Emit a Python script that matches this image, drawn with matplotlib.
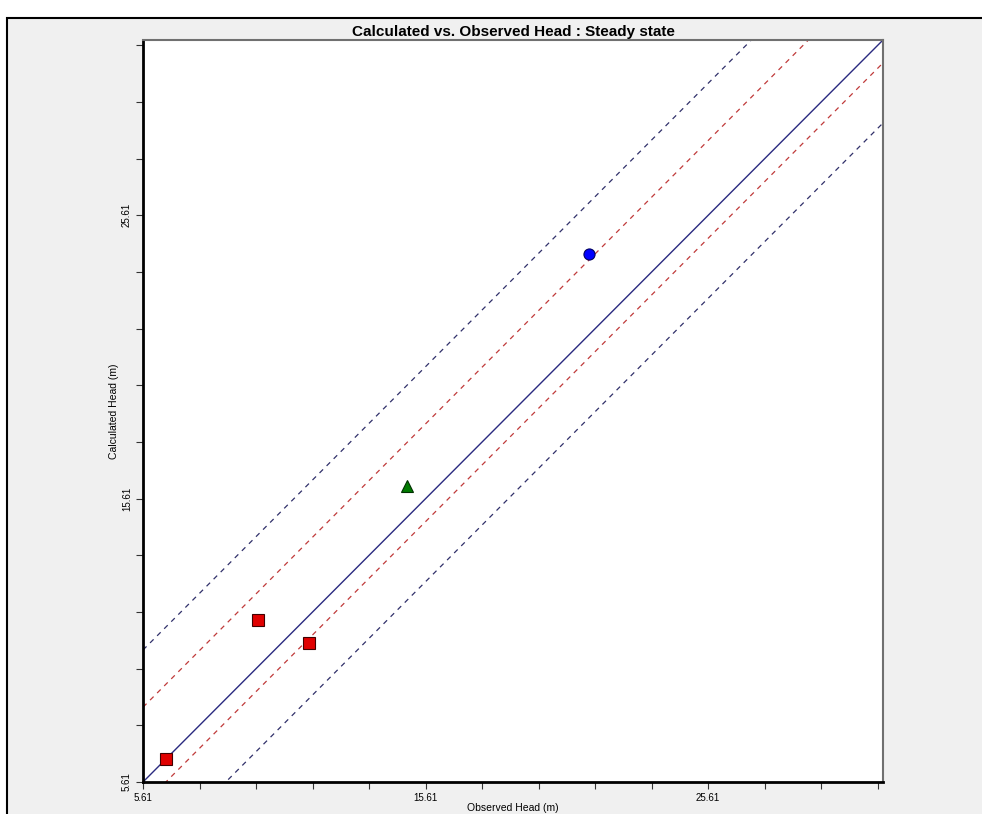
import numpy as np
import matplotlib
matplotlib.use('Agg')
import matplotlib.pyplot as plt
from matplotlib.patches import Rectangle

plt.rcParams['font.family'] = ['Liberation Sans', 'DejaVu Sans']

# observation points (observed, calculated)
obs_sq = [6.42, 9.67, 11.48]
calc_sq = [6.42, 11.33, 10.52]
obs_tri = [14.94]
calc_tri = [16.07]
obs_circ = [21.41]
calc_circ = [24.23]

# interval line offsets from the 1:1 line
inner_offsets = [2.64, -0.81]   # red dashed
outer_offsets = [4.66, -2.93]   # dark dashed

axmin, axmax = 5.61, 31.8
tick_vals = np.arange(5.61, 32.0, 2.0)
label_vals = [5.61, 15.61, 25.61]

fig = plt.figure(figsize=(9.82, 8.14), dpi=100)
fig.patch.set_facecolor('white')
fig.patches.append(Rectangle((7/982, -0.01), 1.0, 1 - 18/814 + 0.01, transform=fig.transFigure,
                             facecolor='#f0f0f0', edgecolor='black', linewidth=1.5, zorder=-10))

ax = fig.add_axes([143/982, 1 - 782/814, 740/982, 742/814])
ax.set_zorder(5)
ax.set_facecolor('white')

xx = np.array([axmin, axmax])
ax.plot(xx, xx, color='#2a2a80', lw=1.0, zorder=2)
for off in inner_offsets:
    ax.plot(xx, xx + off, color='#c03a3a', lw=0.9, ls=(0, (4, 4)), zorder=2)
for off in outer_offsets:
    ax.plot(xx, xx + off, color='#30306a', lw=0.9, ls=(0, (4, 4)), zorder=2)

ax.plot(obs_sq, calc_sq, 's', ms=8, mfc='#e00000', mec='#400000', mew=0.8, zorder=3)
ax.plot(obs_tri, calc_tri, '^', ms=8, mfc='#007a00', mec='#003000', mew=0.8, zorder=3)
ax.plot(obs_circ, calc_circ, 'o', ms=8, mfc='#0000ff', mec='#000060', mew=0.8, zorder=3)

ax.set_xlim(axmin, axmax)
ax.set_ylim(axmin, axmax)

def fmt(v):
    for lv in label_vals:
        if abs(v - lv) < 1e-6:
            return '%.2f' % lv
    return ''

ax.set_xticks(tick_vals)
ax.set_yticks(tick_vals)
ax.set_xticklabels([fmt(v) for v in tick_vals], fontsize=7)
ax.set_yticklabels([fmt(v) for v in tick_vals], fontsize=7, rotation=90, va='center')
ax.tick_params(direction='out', length=5, width=0.8, color='#333333', pad=3)

for s in ['left', 'bottom']:
    ax.spines[s].set_linewidth(2)
    ax.spines[s].set_color('black')
for s in ['top', 'right']:
    ax.spines[s].set_linewidth(1.5)
    ax.spines[s].set_color('#707070')

ax.set_xlabel('Observed Head (m)', fontsize=7.5, labelpad=0)
ax.set_ylabel('Calculated Head (m)', fontsize=7.5, labelpad=2)
ax.set_title('Calculated vs. Observed Head : Steady state', fontsize=11, fontweight='bold', pad=3)

fig.savefig('out.png', dpi=100)
